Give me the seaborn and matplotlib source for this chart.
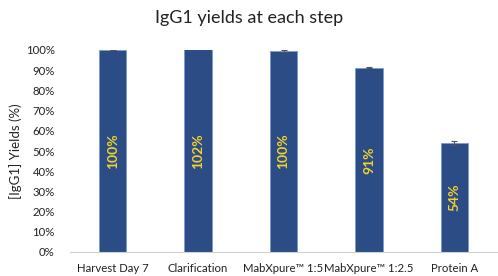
import numpy as np
import pandas as pd
import matplotlib
matplotlib.use("Agg")
import matplotlib.pyplot as plt
import seaborn as sns
from matplotlib.ticker import PercentFormatter

# ── data ─────────────────────────────────────────────────────────────────────
STEPS  = ["Harvest Day 7", "Clarification", "MabXpure\u2122 1:5",
          "MabXpure\u2122 1:2.5", "Protein A"]
YIELDS = [1.00, 1.02, 0.995, 0.912, 0.541]
ERRORS = [0.002, 0.003, 0.003, 0.003, 0.010]
LABELS = ["100%", "102%", "100%", "91%", "54%"]

BAR_COLOR  = "#2B4C84"
EDGE_COLOR = "#7C9AD0"
TEXT_COLOR = "#F2D22E"

sns.set_theme(style="white")
plt.rcParams["font.family"] = ["Lato", "DejaVu Sans"]

df = pd.DataFrame({"step": STEPS, "yield": YIELDS})

fig = plt.figure(figsize=(4.98, 2.76), dpi=100)
ax = fig.add_axes([70 / 498, 24 / 276, 427 / 498, 202 / 276])

sns.barplot(data=df, x="step", y="yield", order=STEPS, color=BAR_COLOR,
            width=0.32, edgecolor=EDGE_COLOR, linewidth=0.6,
            errorbar=None, saturation=1, ax=ax)

ax.errorbar(np.arange(len(STEPS)), YIELDS, yerr=ERRORS, fmt="none",
            ecolor="#555555", elinewidth=0.8, capsize=2.5, capthick=0.8,
            zorder=5)

ax.bar_label(ax.containers[0], labels=LABELS, label_type="center",
             rotation=90, color=TEXT_COLOR, fontsize=10, fontweight="bold")

ax.set_ylim(0, 1.0)
ax.set_yticks(np.arange(0, 1.01, 0.1))
ax.yaxis.set_major_formatter(PercentFormatter(1.0, decimals=0))
ax.set_xlim(-0.5, len(STEPS) - 0.5)

for side in ["top", "right", "left"]:
    ax.spines[side].set_visible(False)
ax.spines["bottom"].set_color("#D0D0D0")
ax.spines["bottom"].set_linewidth(0.8)

ax.tick_params(axis="both", length=0, labelsize=8.2, colors="#222222")
ax.tick_params(axis="y", pad=11)
ax.tick_params(axis="x", pad=8)

ax.set_xlabel("")
ax.set_ylabel("[IgG1] Yields (%)", fontsize=9.5, color="#222222", labelpad=3)
fig.suptitle("IgG1 yields at each step", x=0.5, y=0.965, fontsize=13,
             color="#222222")

fig.savefig("out.png", dpi=100)
